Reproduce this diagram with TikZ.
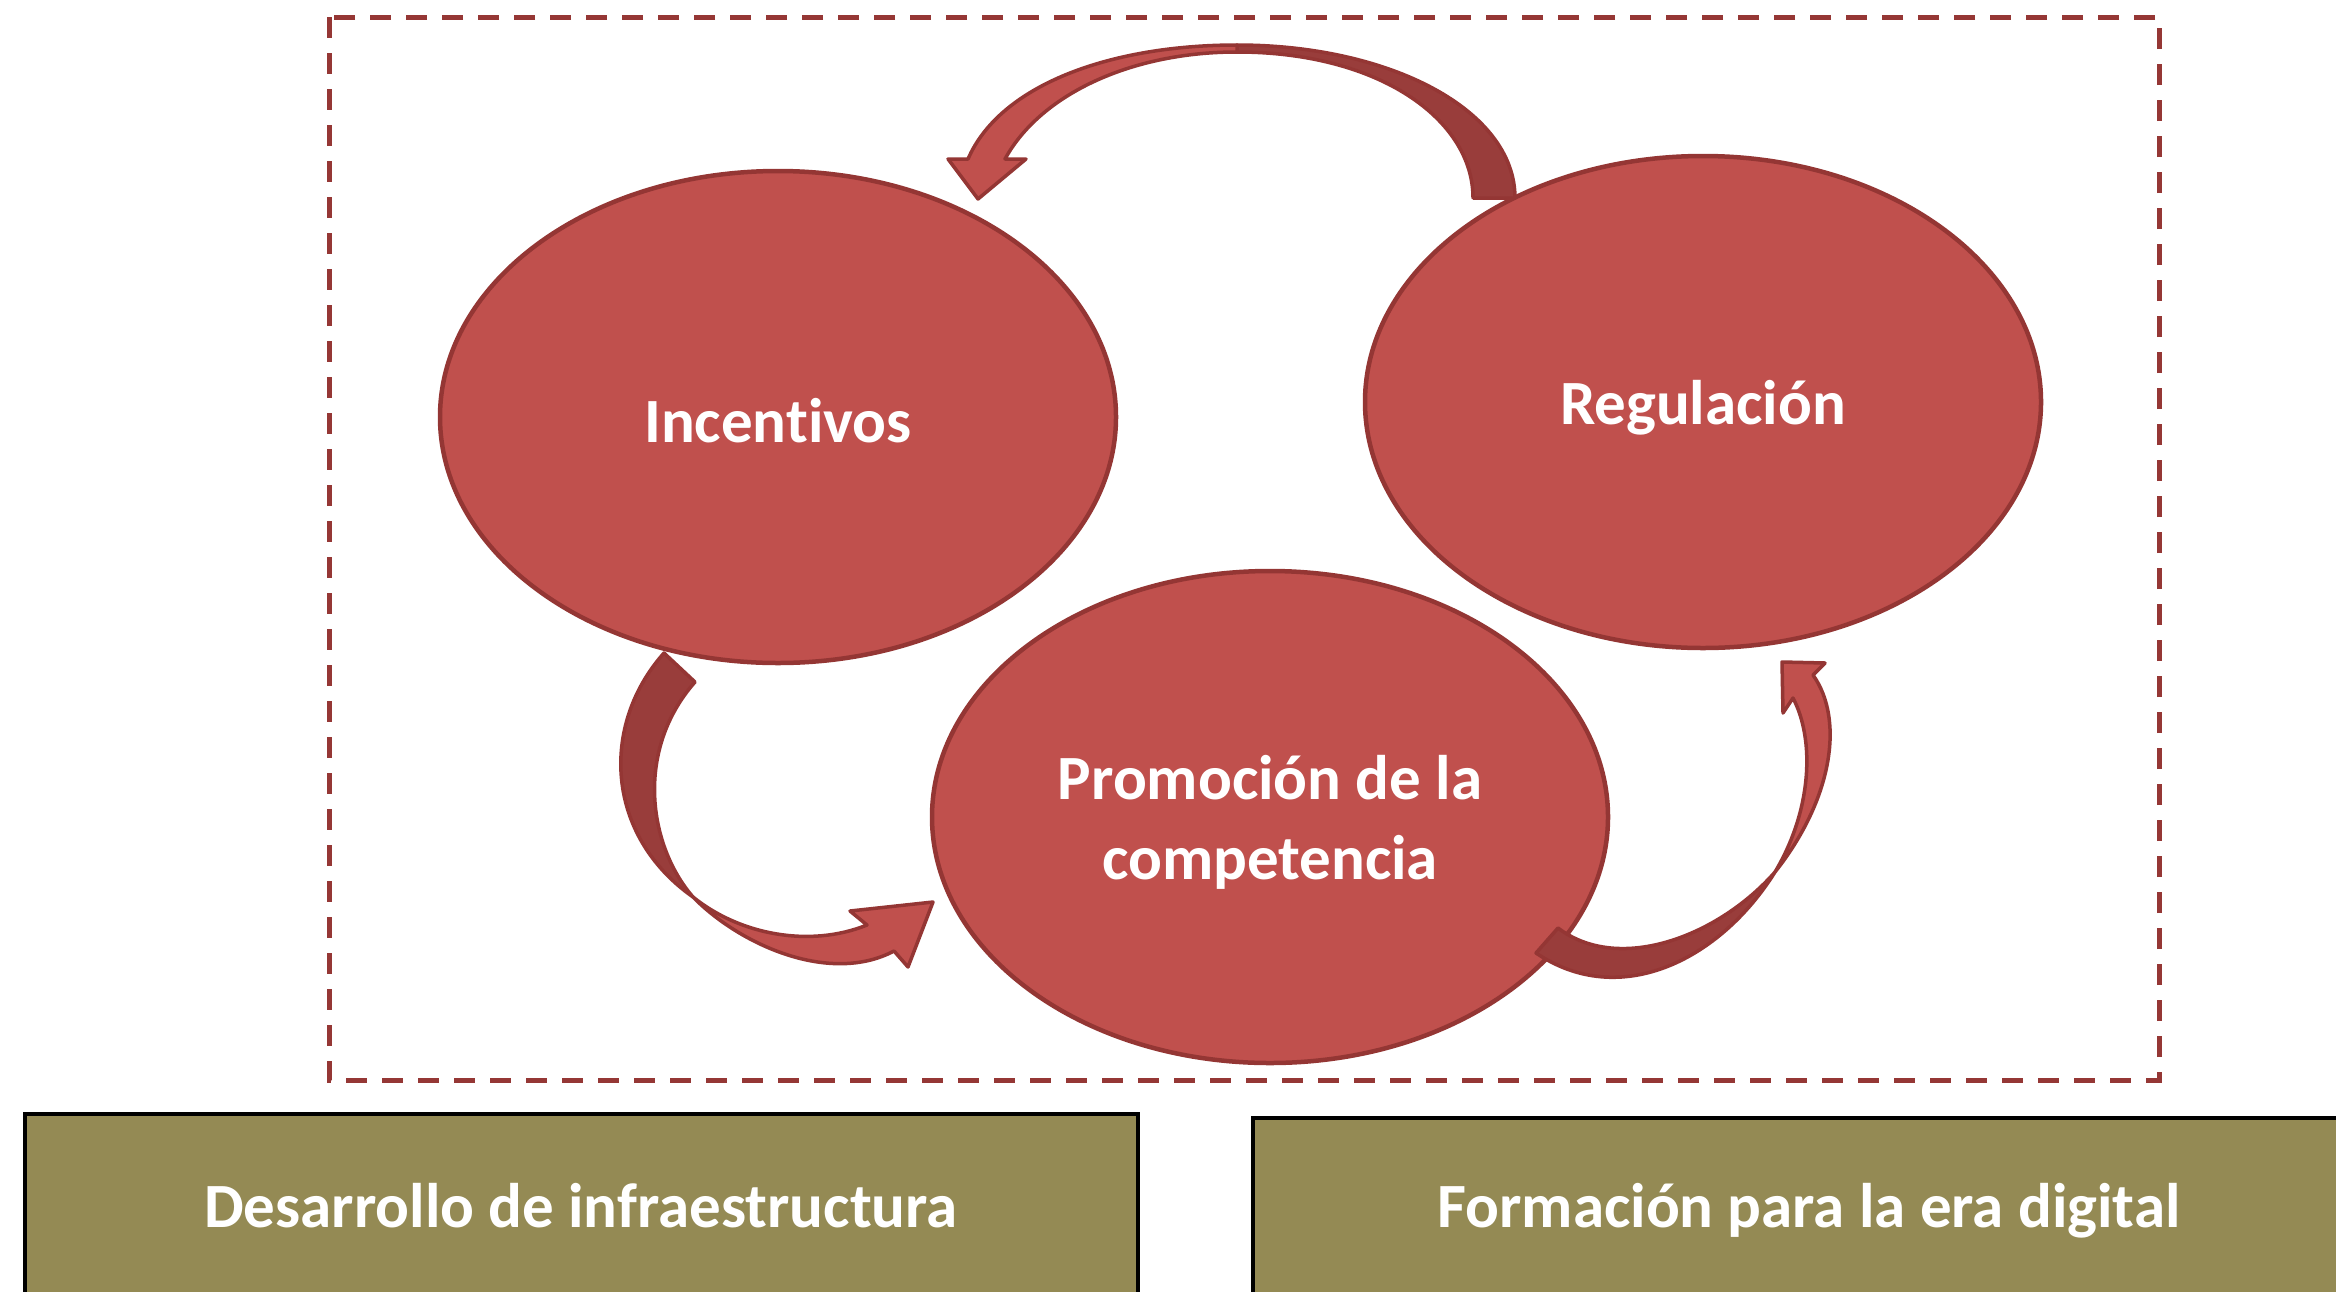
\documentclass[tikz,border=0pt]{standalone}
\usepackage{fontspec}
\setmainfont{Carlito}[Ligatures={NoCommon}]
\usetikzlibrary{shapes.geometric}
\definecolor{ellfill}{HTML}{C0504D}
\definecolor{ellline}{HTML}{943634}
\definecolor{arrdark}{HTML}{993D3B}
\definecolor{dashcol}{HTML}{953735}
\definecolor{olive}{HTML}{948A54}
\tikzset{
  bubble/.style={ellipse, draw=ellline, fill=ellfill, line width=4.5pt,
    minimum width=676pt, minimum height=492pt, inner sep=0pt,
    text=white, font=\fontsize{63}{80}\selectfont\bfseries, align=center},
  bandlight/.style={fill=ellfill, draw=ellline, line width=3.5pt, line join=round},
  banddark/.style={fill=arrdark, draw=ellline, line width=3.5pt, line join=round},
  footbox/.style={draw=black, fill=olive, line width=4pt, text=white,
    font=\fontsize{63}{78}\selectfont\bfseries, inner sep=0pt},
  frame/.style={draw=dashcol, line width=5pt, dash pattern=on 21pt off 15pt}
}
\begin{document}
\begin{tikzpicture}[x=1pt,y=-1pt]
\useasboundingbox (0,0) rectangle (2336,1291);
\clip (0,0) rectangle (2336,1291);
% dashed frame
\draw[frame] (329,17) rectangle (2159,1080);
% ellipses
\node[bubble] (inc) at (778,417) {};
\node[bubble] (reg) at (1703,402) {};
\node[bubble] (pro) at (1270,817) {};
\node[text=white, font=\fontsize{63}{80}\selectfont\bfseries, align=center] at ([yshift=-4pt]inc.center) {Incentivos};
\node[text=white, font=\fontsize{63}{80}\selectfont\bfseries, align=center] at ([yshift=-6pt]reg.center) {Regulación};
\node[text=white, font=\fontsize{63}{80}\selectfont\bfseries, align=center] at ([yshift=-5pt]pro.center) {Promoción de la\\competencia};
% top arrow: Regulacion -> Incentivos
\coordinate (tA) at (1515,198);
\coordinate (tB) at (1473,198);
\draw[banddark] (tA) .. controls (1515,110) and (1390,45) .. (1237,45)
  -- (1237,52) .. controls (1380,52) and (1473,120) .. (tB) -- cycle;
\draw[bandlight] (1237,45) .. controls (1110,45) and (1000,85) .. (968,159)
  -- (948,159) -- (978,199) -- (1026,159) -- (1005,159)
  .. controls (1040,95) and (1130,52) .. (1237,52) -- cycle;
% bottom-left arrow: Incentivos -> Promocion
\coordinate (lA) at (664,653);
\coordinate (lB) at (695,682);
\draw[banddark] (lA) .. controls (600,725) and (605,835) .. (693,897)
  .. controls (648,845) and (635,750) .. (lB) -- cycle;
\draw[bandlight] (693,897) .. controls (740,945) and (830,985) .. (894,951)
  -- (908,967) -- (933,902) -- (850,911) -- (867,925)
  .. controls (810,948) and (740,935) .. (693,897) -- cycle;
% bottom-right arrow: Promocion -> Regulacion
\coordinate (rA) at (1536,953);
\coordinate (rB) at (1558,928);
\draw[banddark] (rA) .. controls (1620,1010) and (1720,960) .. (1775,872)
  .. controls (1720,935) and (1620,975) .. (rB) -- cycle;
\draw[bandlight] (1775,872) .. controls (1832,800) and (1845,720) .. (1813,675)
  -- (1825,663) -- (1782,662) -- (1783,713) -- (1793,698)
  .. controls (1815,740) and (1812,810) .. (1775,872) -- cycle;
% bottom boxes
\node[footbox, minimum width=1113pt, minimum height=180pt] (dev) at (581,1204) {};
\node[footbox, minimum width=1112pt, minimum height=178pt] (form) at (1809,1207) {};
\node[text=white, font=\fontsize{63}{78}\selectfont\bfseries] at ([yshift=-2pt]dev.center) {Desarrollo de infraestructura};
\node[text=white, font=\fontsize{63}{78}\selectfont\bfseries] at ([yshift=-4pt]form.center) {Formación para la era digital};
\end{tikzpicture}
\end{document}
